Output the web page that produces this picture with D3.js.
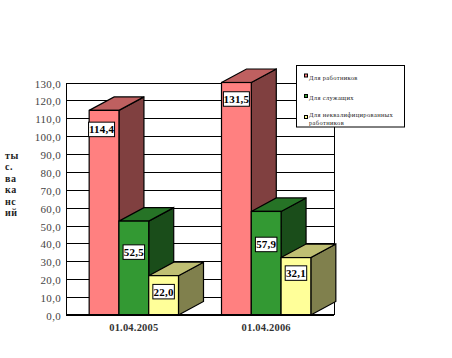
<!DOCTYPE html>
<html><head><meta charset="utf-8">
<script src="https://cdn.jsdelivr.net/npm/d3@7/dist/d3.min.js"></script>
<style>html,body{margin:0;padding:0;background:#fff}svg{display:block}text{font-family:"Liberation Serif",serif}</style>
</head><body><svg id="c" width="452" height="358"></svg>
<script>
const categories = ["01.04.2005","01.04.2006"];
const seriesNames = ["Для работников","Для служащих","Для неквалифицированных работников"];
const workers = [114.4,131.5];
const employees = [52.5,57.9];
const unskilled = [22.0,32.1];
const tickValues = d3.range(0,131,10);
const titleLines = ["ты","с.","ва","ка","нс","ий"];
const fronts = ["#ff8080","#339933","#ffff99"];
const tops = ["#bf6060","#267326","#bfbf73"];
const sides = ["#804040","#1a4d1a","#80804d"];
const series = [workers,employees,unskilled];
const fmt = v => v.toFixed(1).replace(".",",");

const svg = d3.select("#c");
const y = d3.scaleLinear().domain([0,130]).range([315,82.5]).clamp(true);
const x0 = d3.scaleBand().domain(categories).range([66,334]).paddingInner(0.325).paddingOuter(0.175);
const x1 = d3.scaleBand().domain([0,1,2]).range([0,x0.bandwidth()]);
const dx = 25, dy = 13.5;

// gridlines and frame
svg.append("g").selectAll("line").data(tickValues.slice(1)).join("line")
  .attr("x1",66).attr("x2",334).attr("y1",d=>Math.round(y(d))+.5).attr("y2",d=>Math.round(y(d))+.5)
  .attr("stroke","#000").attr("stroke-width",1.1);
svg.append("line").attr("x1",334.5).attr("x2",334.5).attr("y1",y(130)).attr("y2",315).attr("stroke","#000");

// bars, back to front
const bars = svg.append("g").attr("stroke","#000").attr("stroke-width",1.2).attr("stroke-linejoin","miter");
categories.forEach(c=>{
  series.forEach((s,si)=>{
    const v = s[categories.indexOf(c)];
    const xl = x0(c)+x1(si), xr = xl+x1.bandwidth(), yt = y(v), yb = y(0);
    const g = bars.append("g");
    g.append("path").attr("fill",sides[si])
      .attr("d",`M${xr},${yt}L${xr+dx},${yt-dy}L${xr+dx},${yb-dy}L${xr},${yb}Z`);
    g.append("path").attr("fill",tops[si])
      .attr("d",`M${xl},${yt}L${xl+dx},${yt-dy}L${xr+dx},${yt-dy}L${xr},${yt}Z`);
    g.append("rect").attr("x",xl).attr("y",yt).attr("width",xr-xl).attr("height",yb-yt).attr("fill",fronts[si]);
  });
});

// axis
const ax = svg.append("g").attr("transform","translate(66,1)")
  .call(d3.axisLeft(y).tickValues(tickValues).tickFormat(fmt).tickSize(0).tickPadding(5));
ax.select(".domain").attr("stroke","#000").attr("transform","translate(0,-1)");
ax.selectAll("text").attr("font-size",11).attr("fill","#444").attr("font-family","Liberation Serif").attr("letter-spacing",.3);
svg.append("line").attr("x1",66).attr("x2",334).attr("y1",315).attr("y2",315).attr("stroke","#000").attr("stroke-width",2);

// category labels
svg.append("g").selectAll("text").data(categories).join("text")
  .attr("x",d=>x0(d)+x0.bandwidth()/2).attr("y",331).attr("text-anchor","middle")
  .attr("font-size",10.5).attr("font-weight","bold").attr("fill","#333").attr("letter-spacing",.2).text(d=>d);

// value labels: offset of each label below its bar top, per category and series
const labelDrop = [[19,31,16],[16.5,33,15.5]];
const labelShift = [[-2.5,0,0],[0,0,0]];
categories.forEach((c,ci)=>{
  series.forEach((s,si)=>{
    const xl = x0(c)+x1(si), w = x1.bandwidth(), v = s[ci];
    const t = fmt(v), bw = v>=100?26:21.5, bh = 14.5;
    const cx = xl+w/2+labelShift[ci][si];
    const cy = y(v)+labelDrop[ci][si];
    const lb = svg.append("g");
    lb.append("rect").attr("x",cx-bw/2).attr("y",cy-bh/2).attr("width",bw).attr("height",bh)
      .attr("fill","#fff").attr("stroke","#000").attr("stroke-width",1);
    lb.append("text").attr("x",cx).attr("y",cy+4).attr("text-anchor","middle")
      .attr("font-size",11).attr("font-weight","bold").attr("fill","#000").attr("letter-spacing",.2).text(t);
  });
});

// y title
svg.append("g").selectAll("text").data(titleLines).join("text")
  .attr("x",5).attr("y",(d,i)=>159+i*11.4).attr("font-size",10).attr("font-weight","bold").attr("fill","#222")
  .attr("letter-spacing",.6).text(d=>d);

// legend
const lg = svg.append("g");
lg.append("rect").attr("x",296.5).attr("y",65.5).attr("width",108).attr("height",61.5).attr("fill","#fff").attr("stroke","#000");
const legendLines = [[seriesNames[0]],[seriesNames[1]],["Для неквалифицированных","работников"]];
legendLines.forEach((ls,i)=>{
  const cy = [75.5,96,117][i];
  lg.append("rect").attr("x",304.5).attr("y",cy-1.5).attr("width",3).attr("height",3).attr("fill",fronts[i]).attr("stroke","#000");
  ls.forEach((l,j)=>lg.append("text").attr("x",309).attr("y",[80,99.5,117][i]+j*7.5).attr("font-size",6.5).attr("fill","#222").attr("letter-spacing",.35).text(l));
});
</script></body></html>
